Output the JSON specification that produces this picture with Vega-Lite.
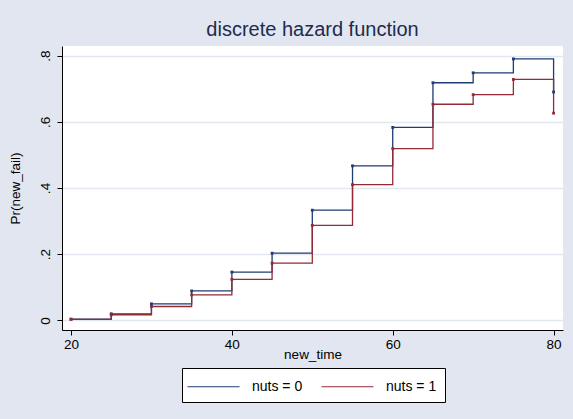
{
  "$schema": "https://vega.github.io/schema/vega-lite/v6.json",
  "width": 501,
  "height": 284,
  "autosize": {"type": "none"},
  "padding": {"left": 62, "top": 46, "right": 10, "bottom": 89},
  "background": "#E1E6F0",
  "title": {
    "text": "discrete hazard function",
    "font": "Liberation Sans",
    "fontSize": 20,
    "fontWeight": "normal",
    "color": "#1E2B4F",
    "frame": "group",
    "anchor": "middle",
    "offset": 6
  },
  "config": {
    "view": {"fill": "white", "stroke": null},
    "font": "Liberation Sans"
  },
  "data": {
    "values": [
      {"t": 20, "p": 0.004, "g": "nuts = 0"},
      {"t": 25, "p": 0.020, "g": "nuts = 0"},
      {"t": 30, "p": 0.050, "g": "nuts = 0"},
      {"t": 35, "p": 0.089, "g": "nuts = 0"},
      {"t": 40, "p": 0.146, "g": "nuts = 0"},
      {"t": 45, "p": 0.203, "g": "nuts = 0"},
      {"t": 50, "p": 0.333, "g": "nuts = 0"},
      {"t": 55, "p": 0.467, "g": "nuts = 0"},
      {"t": 60, "p": 0.583, "g": "nuts = 0"},
      {"t": 65, "p": 0.718, "g": "nuts = 0"},
      {"t": 70, "p": 0.748, "g": "nuts = 0"},
      {"t": 75, "p": 0.790, "g": "nuts = 0"},
      {"t": 80, "p": 0.690, "g": "nuts = 0"},
      {"t": 20, "p": 0.003, "g": "nuts = 1"},
      {"t": 25, "p": 0.017, "g": "nuts = 1"},
      {"t": 30, "p": 0.042, "g": "nuts = 1"},
      {"t": 35, "p": 0.077, "g": "nuts = 1"},
      {"t": 40, "p": 0.124, "g": "nuts = 1"},
      {"t": 45, "p": 0.173, "g": "nuts = 1"},
      {"t": 50, "p": 0.287, "g": "nuts = 1"},
      {"t": 55, "p": 0.410, "g": "nuts = 1"},
      {"t": 60, "p": 0.519, "g": "nuts = 1"},
      {"t": 65, "p": 0.653, "g": "nuts = 1"},
      {"t": 70, "p": 0.682, "g": "nuts = 1"},
      {"t": 75, "p": 0.728, "g": "nuts = 1"},
      {"t": 80, "p": 0.626, "g": "nuts = 1"}
    ]
  },
  "encoding": {
    "x": {
      "field": "t",
      "type": "quantitative",
      "scale": {"domain": [18.88, 81.17], "nice": false, "zero": false},
      "axis": {
        "title": "new_time",
        "values": [20, 40, 60, 80],
        "grid": false,
        "domainColor": "black",
        "domainWidth": 1,
        "tickColor": "black",
        "tickSize": 5,
        "labelFontSize": 13.5,
        "labelColor": "black",
        "labelPadding": 2,
        "titleFontSize": 13.5,
        "titleFontWeight": "normal",
        "titleColor": "black",
        "titlePadding": -3
      }
    },
    "y": {
      "field": "p",
      "type": "quantitative",
      "scale": {"domain": [-0.029, 0.829], "nice": false, "zero": false},
      "axis": {
        "title": "Pr(new_fail)",
        "values": [0, 0.2, 0.4, 0.6, 0.8],
        "labelExpr": "datum.value == 0 ? '0' : replace(format(datum.value, '.1f'), '0.', '.')",
        "labelAngle": -90,
        "labelAlign": "center",
        "labelBaseline": "bottom",
        "grid": true,
        "gridColor": "#E3E7EF",
        "gridWidth": 1.5,
        "domainColor": "black",
        "domainWidth": 1,
        "tickColor": "black",
        "tickSize": 5,
        "labelFontSize": 13.5,
        "labelColor": "black",
        "labelPadding": 5,
        "titleFontSize": 13.5,
        "titleFontWeight": "normal",
        "titleColor": "black",
        "titlePadding": 16
      }
    },
    "color": {
      "field": "g",
      "type": "nominal",
      "scale": {"domain": ["nuts = 0", "nuts = 1"], "range": ["#1F3B73", "#932B35"]},
      "legend": {
        "title": null,
        "orient": "none",
        "legendX": 120,
        "legendY": 322,
        "direction": "horizontal",
        "strokeColor": "black",
        "fillColor": "white",
        "padding": 8,
        "symbolType": "M-2.6,0H2.6",
        "symbolSize": 400,
        "symbolStrokeWidth": 1,
        "symbolOffset": 13,
        "labelOffset": 28,
        "labelFontSize": 14,
        "labelColor": "black",
        "columnPadding": 16
      }
    }
  },
  "layer": [
    {
      "mark": {"type": "line", "interpolate": "step-after", "strokeWidth": 1.3}
    },
    {
      "mark": {"type": "point", "shape": "square", "filled": true, "size": 8, "opacity": 1}
    }
  ]
}
